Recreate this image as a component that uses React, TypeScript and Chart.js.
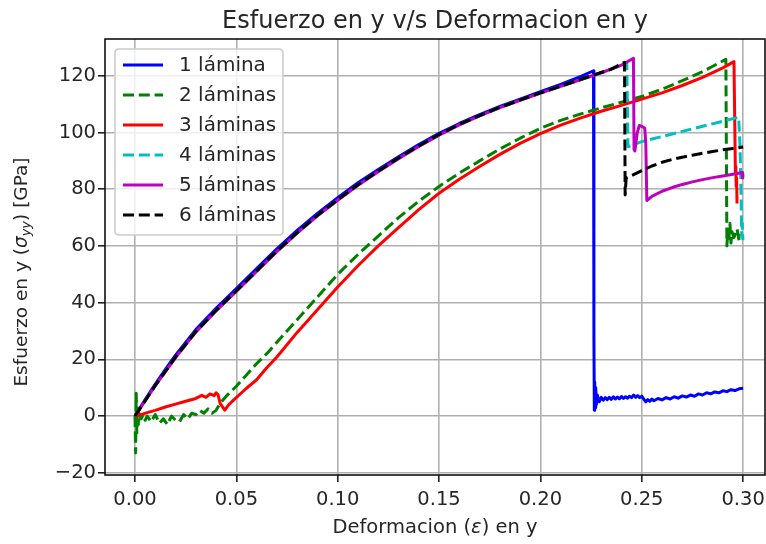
import React, { useEffect, useRef } from "react";
import { Chart, registerables } from "chart.js";

Chart.register(...registerables);

const FONT = "'DejaVu Sans', 'Liberation Sans', sans-serif";

// ---------- labels & ticks ----------
const chartTitle = "Esfuerzo en y v/s Deformacion en y";
const seriesLabels = ["1 lámina", "2 láminas", "3 láminas", "4 láminas", "5 láminas", "6 láminas"];
const xTicks = [0, 0.05, 0.1, 0.15, 0.2, 0.25, 0.3];
const yTicks = [-20, 0, 20, 40, 60, 80, 100, 120];
const xLimits = [-0.0148, 0.3108];
const yLimits = [-20.8, 133];

// ---------- data ----------
const strain1 = [0, 0.005, 0.01, 0.015, 0.02, 0.03, 0.04, 0.05, 0.06, 0.07, 0.08, 0.09, 0.1, 0.11, 0.12, 0.13, 0.14, 0.15, 0.16, 0.17, 0.18, 0.19, 0.2, 0.21, 0.22, 0.2262, 0.2264, 0.2266, 0.2268, 0.227, 0.2273, 0.2276, 0.228, 0.229, 0.23, 0.231, 0.232, 0.233, 0.234, 0.235, 0.236, 0.237, 0.238, 0.239, 0.24, 0.241, 0.242, 0.243, 0.244, 0.245, 0.246, 0.247, 0.248, 0.249, 0.25, 0.251, 0.252, 0.253, 0.254, 0.255, 0.256, 0.258, 0.26, 0.262, 0.264, 0.266, 0.268, 0.27, 0.272, 0.274, 0.276, 0.278, 0.28, 0.282, 0.284, 0.286, 0.288, 0.29, 0.292, 0.294, 0.296, 0.298, 0.3];
const stress1 = [0, 5.8, 11.3, 16.5, 21.5, 30.5, 38, 45, 52, 59, 65.5, 71.5, 77, 82.3, 87, 91.5, 95.8, 99.7, 103.2, 106.3, 109.2, 111.8, 114.4, 117, 119.8, 121.8, 28, 2, 12, 3, 10, 4, 7.5, 5, 6.6, 5.6, 6.5, 5.8, 6.6, 5.9, 6.8, 6, 6.7, 6.1, 6.9, 6.2, 6.8, 6.3, 7, 6.5, 7.4, 6.6, 7.2, 6.5, 7, 6, 5, 5.8, 5.2, 6, 5.4, 6.2, 5.7, 6.5, 6, 6.8, 6.3, 7.1, 6.7, 7.4, 7, 7.8, 7.4, 8.2, 7.8, 8.5, 8.2, 8.9, 8.6, 9.3, 9, 9.6, 9.8];

const strain2 = [0, 0.0003, 0.0006, 0.0009, 0.0012, 0.0016, 0.002, 0.003, 0.004, 0.005, 0.006, 0.008, 0.01, 0.012, 0.014, 0.016, 0.018, 0.02, 0.022, 0.024, 0.026, 0.028, 0.03, 0.032, 0.034, 0.036, 0.038, 0.04, 0.042, 0.045, 0.05, 0.055, 0.06, 0.065, 0.07, 0.08, 0.09, 0.1, 0.11, 0.12, 0.13, 0.14, 0.15, 0.16, 0.17, 0.18, 0.19, 0.2, 0.21, 0.22, 0.23, 0.24, 0.25, 0.26, 0.27, 0.28, 0.2915, 0.292, 0.2925, 0.293, 0.2935, 0.294, 0.2945, 0.2955, 0.297, 0.298, 0.299];
const stress2 = [0, -13, 8, -6, 3, -3, 1, -1, 0.5, -1.5, 0, -2, 0.5, -2.5, -1, -3, 0, -1.5, -2, 0.5, -1, 1, 0.5, 2, 1, 2.5, 1, 2, 4.5, 7, 10.5, 14.5, 18.5, 22, 26, 34, 42, 50, 57, 63.5, 70, 75.8, 81, 85.7, 90, 94.2, 98, 101.5, 104.3, 106.6, 108.7, 110.7, 112.7, 115.3, 118.3, 121.5, 125.8, 60, 66, 62, 68, 61, 65, 63, 66, 62, 64];

const strain3 = [0, 0.003, 0.006, 0.01, 0.015, 0.02, 0.025, 0.03, 0.033, 0.035, 0.037, 0.039, 0.04, 0.041, 0.042, 0.0443, 0.046, 0.049, 0.055, 0.06, 0.065, 0.07, 0.08, 0.09, 0.1, 0.11, 0.12, 0.13, 0.14, 0.15, 0.16, 0.17, 0.18, 0.19, 0.2, 0.21, 0.22, 0.23, 0.24, 0.25, 0.26, 0.27, 0.28, 0.29, 0.2955, 0.2962, 0.2964, 0.2966, 0.2968, 0.297];
const stress3 = [0, 0.5, 1.2, 2, 3.2, 4.2, 5.2, 6.2, 7.3, 6.6, 7.8, 7.2, 8.2, 7.5, 4.5, 2.1, 3.8, 5.9, 9.8, 12.8, 17, 20.8, 29.5, 37.5, 45.5, 53, 60, 66.5, 72.8, 78.6, 83.5, 88, 92.3, 96.2, 99.6, 102.6, 105.2, 107.5, 109.6, 111.8, 114, 116.6, 119.5, 122.8, 125, 86, 88, 81, 84, 75];

const strain4 = [0, 0.01, 0.02, 0.03, 0.04, 0.05, 0.06, 0.07, 0.08, 0.09, 0.1, 0.11, 0.12, 0.13, 0.14, 0.15, 0.16, 0.17, 0.18, 0.19, 0.2, 0.21, 0.22, 0.23, 0.24, 0.2426, 0.2432, 0.25, 0.26, 0.27, 0.28, 0.29, 0.2978, 0.2985, 0.299, 0.2993, 0.2996, 0.2999];
const stress4 = [0, 10.7, 20.7, 29.7, 37.2, 44.1, 51.1, 58.1, 64.6, 70.7, 76.2, 81.5, 86.3, 90.9, 95.2, 99.2, 102.8, 105.9, 108.8, 111.4, 113.9, 116.3, 118.7, 121.1, 123.7, 124.6, 95, 96.8, 98.6, 100.4, 102.2, 104, 105.4, 95, 78, 63, 68, 62];

const strain5 = [0, 0.01, 0.02, 0.03, 0.04, 0.05, 0.06, 0.07, 0.08, 0.09, 0.1, 0.11, 0.12, 0.13, 0.14, 0.15, 0.16, 0.17, 0.18, 0.19, 0.2, 0.21, 0.22, 0.23, 0.24, 0.2459, 0.2462, 0.2466, 0.2478, 0.2488, 0.2505, 0.2515, 0.252, 0.2525, 0.255, 0.26, 0.265, 0.27, 0.275, 0.28, 0.285, 0.29, 0.295, 0.2995, 0.2998, 0.3];
const stress5 = [0, 10.7, 20.6, 29.6, 37.1, 44, 51, 58, 64.5, 70.6, 76.1, 81.4, 86.2, 90.8, 95.1, 99.1, 102.7, 105.9, 108.8, 111.4, 113.9, 116.3, 118.7, 121.1, 123.8, 126.2, 94, 93.5, 100, 102.5, 102, 101.5, 96, 76, 77.5, 79.3, 80.6, 81.7, 82.6, 83.4, 84.1, 84.7, 85.3, 85.9, 84, 85];

const strain6 = [0, 0.01, 0.02, 0.03, 0.04, 0.05, 0.06, 0.07, 0.08, 0.09, 0.1, 0.11, 0.12, 0.13, 0.14, 0.15, 0.16, 0.17, 0.18, 0.19, 0.2, 0.21, 0.22, 0.23, 0.2345, 0.2415, 0.2418, 0.2423, 0.245, 0.25, 0.255, 0.26, 0.265, 0.27, 0.275, 0.28, 0.285, 0.29, 0.295, 0.3];
const stress6 = [0, 10.8, 20.8, 29.8, 37.3, 44.2, 51.2, 58.2, 64.7, 70.8, 76.3, 81.6, 86.4, 91, 95.3, 99.3, 102.9, 106, 108.9, 111.5, 114, 116.4, 118.8, 121.2, 122.2, 124.8, 78, 84, 84.8, 86.6, 88.2, 89.5, 90.5, 91.3, 92, 92.7, 93.3, 93.9, 94.4, 94.9];

const strains = [strain1, strain2, strain3, strain4, strain5, strain6];
const stresses = [stress1, stress2, stress3, stress4, stress5, stress6];

// ---------- styles ----------
const seriesColors = ["#0000ff", "#008000", "#ff0000", "#00bfbf", "#bf00bf", "#000000"];
const seriesDashed = [false, true, false, true, false, true];
const DASH = [11, 4.8];
const TEXT = "#262626";

const fmtY = (v: number) => (v < 0 ? "\u2212" + Math.abs(v) : String(v));

function drawSegments(ctx: CanvasRenderingContext2D, segs: { t: string; font: string; dy: number }[], cx: number, baseY: number) {
  let total = 0;
  for (const s of segs) { ctx.font = s.font; total += ctx.measureText(s.t).width; }
  let x = cx - total / 2;
  ctx.textAlign = "left";
  ctx.textBaseline = "alphabetic";
  for (const s of segs) {
    ctx.font = s.font;
    ctx.fillText(s.t, x, baseY + s.dy);
    x += ctx.measureText(s.t).width;
  }
}

const decorPlugin = {
  id: "decor",
  afterDatasetsDraw(chart: any) {
    const ctx = chart.ctx as CanvasRenderingContext2D;
    const a = chart.chartArea;
    ctx.save();
    ctx.strokeStyle = "#111";
    ctx.lineWidth = 1.6;
    ctx.setLineDash([]);
    ctx.strokeRect(a.left, a.top, a.right - a.left, a.bottom - a.top);
    ctx.restore();
  },
  afterDraw(chart: any) {
    const ctx = chart.ctx as CanvasRenderingContext2D;
    const a = chart.chartArea;
    const cx = (a.left + a.right) / 2;
    const cy = (a.top + a.bottom) / 2;
    ctx.save();
    ctx.fillStyle = TEXT;
    // title
    ctx.font = `24px ${FONT}`;
    ctx.textAlign = "center";
    ctx.textBaseline = "alphabetic";
    ctx.fillText(chartTitle, cx, 28);
    // x label
    const nf = `19.5px ${FONT}`;
    const itf = `italic 19.5px ${FONT}`;
    drawSegments(ctx, [
      { t: "Deformacion (", font: nf, dy: 0 },
      { t: "\u03b5", font: itf, dy: 0 },
      { t: ") en y", font: nf, dy: 0 },
    ], cx, 533);
    // y label
    const yf = `18.5px ${FONT}`;
    ctx.save();
    ctx.translate(27, cy + 15);
    ctx.rotate(-Math.PI / 2);
    drawSegments(ctx, [
      { t: "Esfuerzo en y (", font: yf, dy: 0 },
      { t: "\u03c3", font: `italic 18.5px ${FONT}`, dy: 0 },
      { t: "yy", font: `italic 13px ${FONT}`, dy: 3 },
      { t: ") [GPa]", font: yf, dy: 0 },
    ], 0, 0);
    ctx.restore();

    // legend
    const lx = a.left + 10, ly = a.top + 10, lw = 168, lh = 186, r = 4;
    ctx.beginPath();
    ctx.moveTo(lx + r, ly);
    ctx.lineTo(lx + lw - r, ly);
    ctx.quadraticCurveTo(lx + lw, ly, lx + lw, ly + r);
    ctx.lineTo(lx + lw, ly + lh - r);
    ctx.quadraticCurveTo(lx + lw, ly + lh, lx + lw - r, ly + lh);
    ctx.lineTo(lx + r, ly + lh);
    ctx.quadraticCurveTo(lx, ly + lh, lx, ly + lh - r);
    ctx.lineTo(lx, ly + r);
    ctx.quadraticCurveTo(lx, ly, lx + r, ly);
    ctx.closePath();
    ctx.fillStyle = "rgba(255,255,255,0.8)";
    ctx.fill();
    ctx.strokeStyle = "#cccccc";
    ctx.lineWidth = 1.6;
    ctx.stroke();
    ctx.font = `20px ${FONT}`;
    ctx.textAlign = "left";
    ctx.textBaseline = "middle";
    seriesLabels.forEach((lab, i) => {
      const yy = ly + 16 + i * 30;
      ctx.beginPath();
      ctx.setLineDash(seriesDashed[i] ? DASH : []);
      ctx.lineDashOffset = 0;
      ctx.strokeStyle = seriesColors[i];
      ctx.lineWidth = 3;
      ctx.lineCap = "butt";
      ctx.moveTo(lx + 8, yy);
      ctx.lineTo(lx + 48, yy);
      ctx.stroke();
      ctx.setLineDash([]);
      ctx.fillStyle = TEXT;
      ctx.fillText(lab, lx + 64, yy + 1);
    });
    ctx.restore();
  },
};

export default function App() {
  const ref = useRef<HTMLCanvasElement | null>(null);
  useEffect(() => {
    if (!ref.current) return;
    const datasets = seriesLabels.map((label, i) => ({
      label,
      data: strains[i].map((x, j) => ({ x, y: stresses[i][j] })),
      borderColor: seriesColors[i],
      backgroundColor: seriesColors[i],
      borderWidth: 3,
      borderDash: seriesDashed[i] ? DASH : [],
      borderJoinStyle: "round" as const,
      borderCapStyle: "butt" as const,
      pointRadius: 0,
      pointHoverRadius: 0,
      tension: 0,
      fill: false,
      order: 6 - i,
    }));
    const chart = new Chart(ref.current, {
      type: "line",
      data: { datasets },
      options: {
        responsive: false,
        animation: false,
        devicePixelRatio: 1,
        events: [],
        layout: { padding: { top: 39, right: 1, left: 0, bottom: 0 } },
        plugins: { legend: { display: false }, title: { display: false }, tooltip: { enabled: false } },
        scales: {
          x: {
            type: "linear",
            min: xLimits[0],
            max: xLimits[1],
            afterBuildTicks: (s: any) => { s.ticks = xTicks.map((v) => ({ value: v })); },
            afterFit: (s: any) => { s.height = 69; s.paddingLeft = 0; s.paddingRight = 0; },
            border: { display: false },
            grid: { color: "#b0b0b0", lineWidth: 1.6, drawTicks: true, tickLength: 7, tickColor: "#222", tickWidth: 1.6 },
            ticks: { padding: 6, color: TEXT, font: { family: FONT, size: 19.5 }, maxRotation: 0, autoSkip: false, callback: (v: any) => Number(v).toFixed(2) },
          },
          y: {
            type: "linear",
            min: yLimits[0],
            max: yLimits[1],
            afterBuildTicks: (s: any) => { s.ticks = yTicks.map((v) => ({ value: v })); },
            afterFit: (s: any) => { s.width = 105; s.paddingTop = 0; s.paddingBottom = 0; },
            border: { display: false },
            grid: { color: "#b0b0b0", lineWidth: 1.6, drawTicks: true, tickLength: 7, tickColor: "#222", tickWidth: 1.6 },
            ticks: { padding: 2, color: TEXT, font: { family: FONT, size: 19.5 }, autoSkip: false, callback: (v: any) => fmtY(Number(v)) },
          },
        },
      },
      plugins: [decorPlugin],
    } as any);
    return () => chart.destroy();
  }, []);
  return (
    <div style={{ position: "absolute", left: 0, top: 0, width: 766, height: 544, background: "#fff" }}>
      <canvas ref={ref} width={766} height={544} style={{ display: "block", width: 766, height: 544 }} />
    </div>
  );
}
